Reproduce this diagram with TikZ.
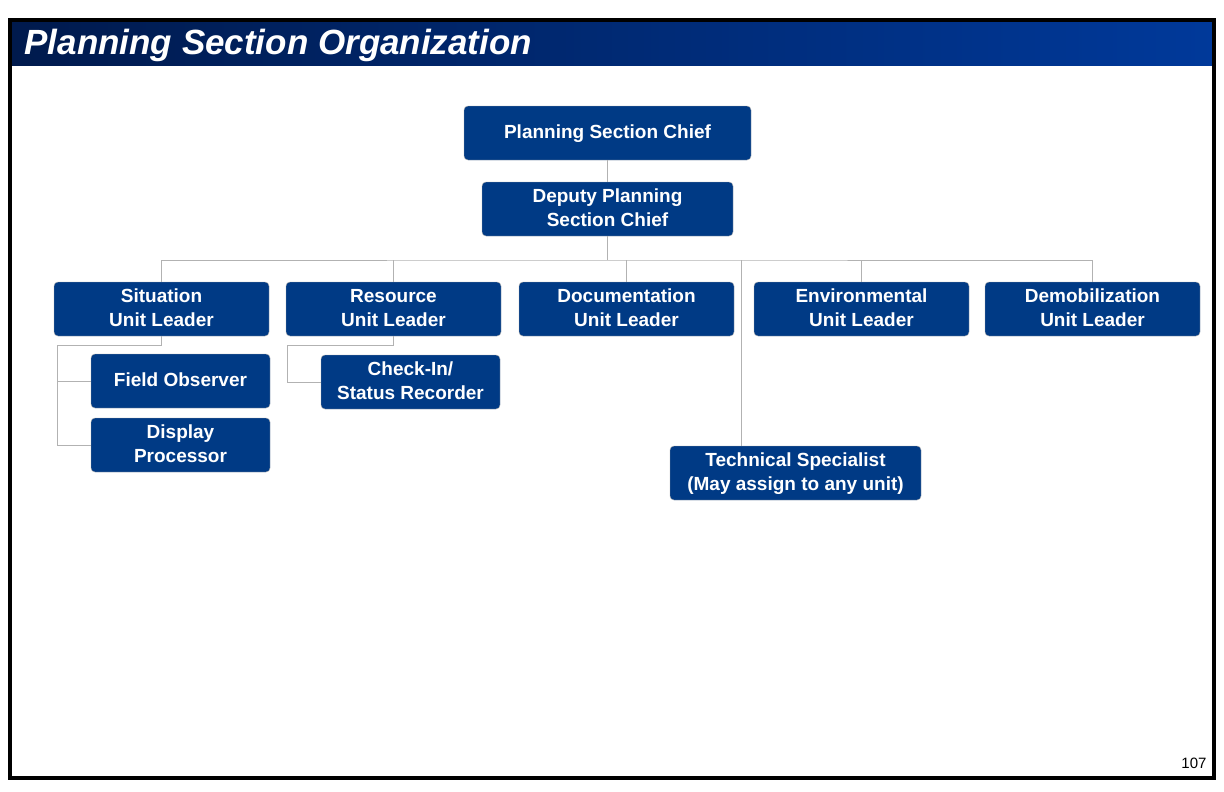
\documentclass[tikz,border=0pt]{standalone}
\usepackage{fontspec}
\setmainfont{Liberation Sans}
\usepackage{tikz}
\usetikzlibrary{positioning}
\definecolor{boxblue}{HTML}{003A85}
\definecolor{navy}{HTML}{001A4D}
\definecolor{barblue}{HTML}{00399A}
\tikzset{
  unit/.style={draw=gray!70, fill=boxblue, rounded corners=4pt, text=white,
    font=\fontsize{19}{24}\selectfont\bfseries, align=center, inner sep=0pt,
    text depth=3pt},
  link/.style={draw=gray!60, line width=0.8pt}
}
\begin{document}
\begin{tikzpicture}[x=1pt,y=-1pt]
\useasboundingbox (0,0) rectangle (1224,792);
% frame and title bar
\shade[left color=navy, right color=barblue] (10,20) rectangle (1214,66);
\draw[line width=4pt] (10,20) rectangle (1214,778);
\node[anchor=west, text=white, font=\fontsize{35}{40}\selectfont\bfseries\itshape] (title) at (21,45) {Planning Section Organization};
\node[font=\fontsize{15}{17}\selectfont] (page) at (1194,763) {107};
% boxes
\node[unit, minimum width=287pt, minimum height=54pt] (chief) at (607.5,133) {Planning Section Chief};
\node[unit, minimum width=251pt, minimum height=54pt] (deputy) at (607.5,209) {Deputy Planning\\Section Chief};
\foreach \name/\x/\txt in {sit/161.5/Situation, res/393.5/Resource, doc/626.5/Documentation,
    env/861.5/Environmental, demob/1092.5/Demobilization}
  \node[unit, minimum width=215pt, minimum height=54pt] (\name) at (\x,309) {\txt\\Unit Leader};
\node[unit, minimum width=179pt, minimum height=54pt] (field) at (180.5,381) {Field Observer};
\node[unit, minimum width=179pt, minimum height=54pt] (display) at (180.5,445) {Display\\Processor};
\node[unit, minimum width=179pt, minimum height=54pt] (checkin) at (410.5,382) {Check-In/\\Status Recorder};
\node[unit, minimum width=251pt, minimum height=54pt] (tech) at (795.5,473) {Technical Specialist\\(May assign to any unit)};
% connectors
\coordinate (bus) at (607.5,260);
\coordinate (techtop) at (741,260);
\path[link] (chief) -- (deputy);
\path[link] (deputy) -- (bus);
\path[link] (sit.north) |- (bus) -| (demob.north);
\foreach \n in {res,doc,env}
  \path[link] (\n.north) -- ++(0,-22);
\path[link] (techtop) -- (tech.north -| techtop);
\path[link] (sit.south) -- ++(0,9) -| (57,445) -- (display.west);
\path[link] (field.west) -- (field.west -| 57,0);
\path[link] (res.south) -- ++(0,9) -| (287,382) -- (checkin.west);
\end{tikzpicture}
\end{document}
